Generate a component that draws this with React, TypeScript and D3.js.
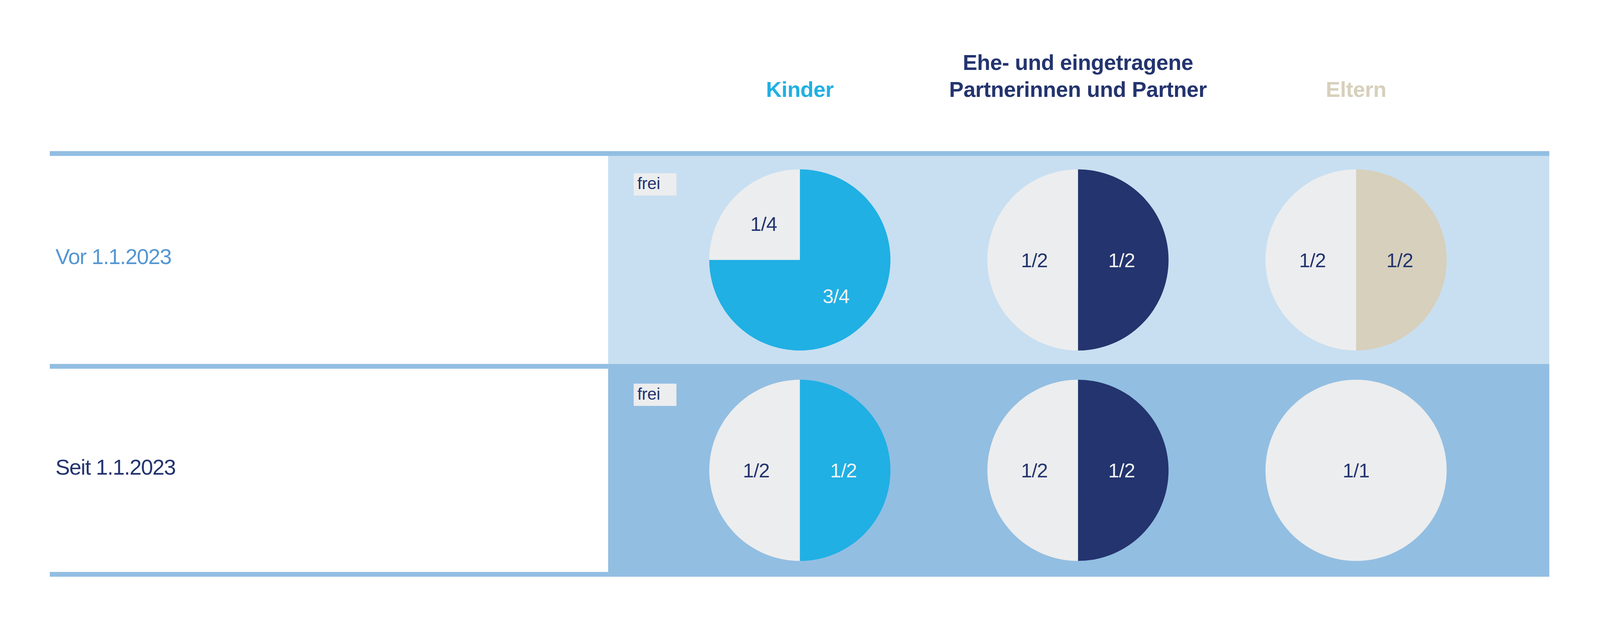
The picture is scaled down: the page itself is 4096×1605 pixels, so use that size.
import * as d3 from "d3";

// Columns (heirs) and rows (periods)
const categories = ["Kinder", "Ehe- und eingetragene Partnerinnen und Partner", "Eltern"];
const headerLines = [["Kinder"], ["Ehe- und eingetragene", "Partnerinnen und Partner"], ["Eltern"]];
const periods = ["Vor 1.1.2023", "Seit 1.1.2023"];

// Share of the estate that is reserved (Pflichtteil) per period and heir
const reservedShare = [
  [0.75, 0.5, 0.5],
  [0.5, 0.5, 0],
];
const reservedLabels = [
  ["3/4", "1/2", "1/2"],
  ["1/2", "1/2", ""],
];
const freeLabels = [
  ["1/4", "1/2", "1/2"],
  ["1/2", "1/2", "1/1"],
];
const freeTag = "frei";

// Colours
const catColors = ["#20B0E4", "#23346E", "#D7D0BD"];
const catLabelColors = ["#F2F2F2", "#F2F2F2", "#23346E"];
const headerColors = ["#20B0E4", "#23346E", "#D7D0BC"];
const periodColors = ["#5597D3", "#23346E"];
const panelColors = ["#C8DFF1", "#92BEE2"];
const ruleColor = "#92BEE2";
const freeColor = "#ECEDEE";
const navy = "#23346E";

const W = 5315;
const H = 2083;
const FONT = "'Liberation Sans', Arial, sans-serif";

const App = () => {
  const ruleY = [502, 1209, 1900];
  const ruleH = 16;
  const left = 165;
  const right = 5147;
  const panelX = 2020;
  const radius = 301;

  const x = d3.scalePoint<string>().domain(categories).range([2657, 4505]);
  const rowTop = (i: number) => ruleY[i] + ruleH;
  const rowCenter = (i: number) => (rowTop(i) + ruleY[i + 1]) / 2;

  const pie = d3.pie<number>().sort(null).value(d => d);
  const arc = d3.arc<d3.PieArcDatum<number>>().innerRadius(0).outerRadius(radius);
  const labelPos = (d: d3.PieArcDatum<number>): [number, number] => {
    const span = d.endAngle - d.startAngle;
    if (span > 2 * Math.PI - 1e-6) return [0, 0];
    const r = Math.abs(span - Math.PI) < 1e-6 ? 145 : 170;
    return d3.arc<d3.PieArcDatum<number>>().innerRadius(r).outerRadius(r).centroid(d) as [number, number];
  };

  return (
    <svg
      width={4096}
      height={1605}
      viewBox={`0 0 ${W} ${H}`}
      style={{ position: "absolute", left: 0, top: 0, background: "#fff" }}
      fontFamily={FONT}
    >
      <rect width={W} height={H} fill="#fff" />

      {/* column headers */}
      {headerLines.map((lines, ci) => (
        <text
          key={ci}
          x={x(categories[ci])}
          textAnchor="middle"
          fontSize={72}
          fontWeight={700}
          letterSpacing={-0.5}
          fill={headerColors[ci]}
        >
          {lines.map((l, li) => (
            <tspan key={li} x={x(categories[ci])} y={322 - (lines.length - 1 - li) * 90}>
              {l}
            </tspan>
          ))}
        </text>
      ))}

      {/* row panels */}
      <rect x={panelX} y={rowTop(0)} width={right - panelX} height={ruleY[1] - rowTop(0)} fill={panelColors[0]} />
      <rect x={panelX} y={ruleY[1]} width={right - panelX} height={ruleY[2] + ruleH - ruleY[1]} fill={panelColors[1]} />

      {/* rules */}
      {ruleY.map((y, i) => (
        <rect key={i} x={left} y={y} width={(i === 0 ? right : panelX) - left} height={ruleH} fill={ruleColor} />
      ))}

      {periods.map((p, ri) => {
        const cy = rowCenter(ri);
        const tagY = cy - 288;
        return (
          <g key={p}>
            <text x={184} y={cy + 14} fontSize={72} letterSpacing={-2} fill={periodColors[ri]}>
              {p}
            </text>
            <rect x={2105} y={tagY} width={142} height={74} fill={freeColor} />
            <text x={2117} y={tagY + 53} fontSize={56} letterSpacing={-0.5} fill={navy}>
              {freeTag}
            </text>
            {categories.map((c, ci) => {
              const share = reservedShare[ri][ci];
              const arcs = pie([share, 1 - share]);
              return (
                <g key={c} transform={`translate(${x(c)},${cy})`}>
                  {arcs.map((a, ai) =>
                    a.value > 0 ? (
                      <path key={ai} d={arc(a) ?? ""} fill={ai === 0 ? catColors[ci] : freeColor} />
                    ) : null
                  )}
                  {arcs.map((a, ai) => {
                    if (a.value <= 0) return null;
                    const [lx, ly] = labelPos(a);
                    return (
                      <text
                        key={ai}
                        x={lx}
                        y={ly + 24}
                        textAnchor="middle"
                        fontSize={66}
                        letterSpacing={-1}
                        fill={ai === 0 ? catLabelColors[ci] : navy}
                      >
                        {ai === 0 ? reservedLabels[ri][ci] : freeLabels[ri][ci]}
                      </text>
                    );
                  })}
                </g>
              );
            })}
          </g>
        );
      })}
    </svg>
  );
};

export default App;
